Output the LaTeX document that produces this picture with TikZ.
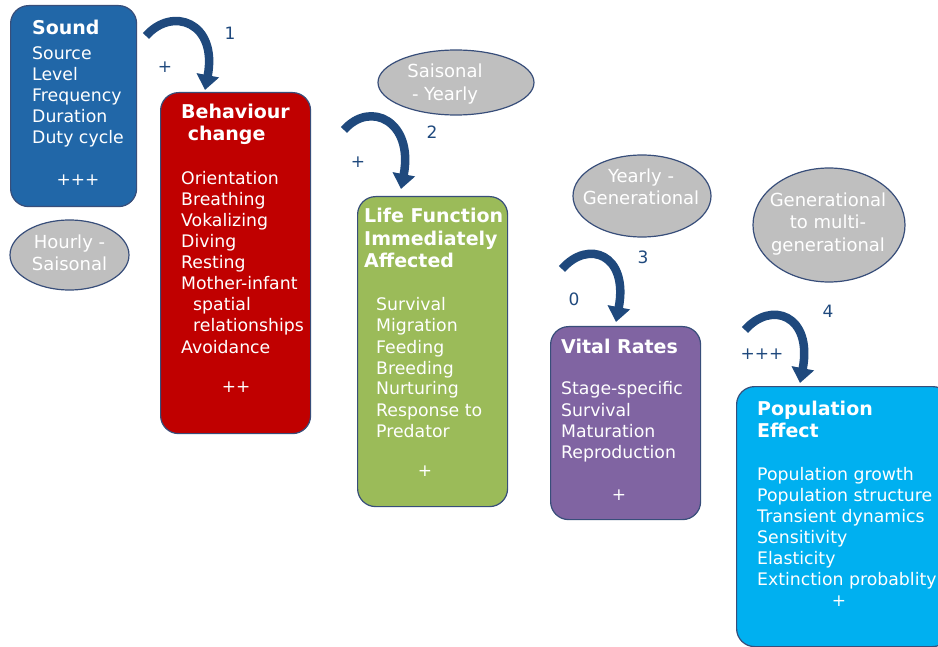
\documentclass[tikz,border=0pt]{standalone}
\usepackage{fontspec}
\setmainfont{DejaVu Sans}
\usetikzlibrary{arrows.meta,shapes.geometric}

\definecolor{soundblue}{RGB}{33,103,168}
\definecolor{behavred}{RGB}{192,0,0}
\definecolor{lifegreen}{RGB}{155,187,89}
\definecolor{vitalpurple}{RGB}{128,100,162}
\definecolor{popcyan}{RGB}{0,176,240}
\definecolor{periodgray}{RGB}{191,191,191}
\definecolor{boxline}{RGB}{56,78,122}
\definecolor{arrowblue}{RGB}{31,73,125}

\tikzset{
  box/.style={draw=boxline, line width=1.2pt, rounded corners=18pt, anchor=north west, inner sep=0pt},
  boxtitle/.style={anchor=base west, inner sep=0pt, text=white, font=\fontsize{19}{22}\selectfont\bfseries},
  item/.style={anchor=base west, inner sep=0pt, text=white, font=\fontsize{17.3}{21}\selectfont},
  score/.style={inner sep=0pt, text=white, font=\fontsize{17}{21}\selectfont},
  period/.style={ellipse, draw=boxline, fill=periodgray, line width=1.2pt, inner sep=0pt},
  periodtext/.style={align=center, inner sep=0pt, text=white, font=\fontsize{18}{22.5}\selectfont},
  bendarrow/.style={draw=arrowblue, line width=8.5pt, -{Triangle[length=15pt,width=22pt]}},
  steplabel/.style={inner sep=0pt, text=arrowblue, font=\fontsize{17}{21}\selectfont}
}

\begin{document}
\begin{tikzpicture}[x=1pt, y=-1pt]
  \useasboundingbox (0,0) rectangle (938,647);

  % boxes
  \node[box, fill=soundblue, minimum width=126, minimum height=201] (sound) at (10,5) {};
  \node[box, fill=behavred, minimum width=150, minimum height=341] (behav) at (160,92) {};
  \node[box, fill=lifegreen, minimum width=150, minimum height=310] (life) at (357,196) {};
  \node[box, fill=vitalpurple, minimum width=150, minimum height=193] (vital) at (550,326) {};
  \node[box, fill=popcyan, minimum width=214, minimum height=260] (pop) at (736,386) {};

  % time scales
  \node[period, minimum width=119, minimum height=70] (hourly) at (69.5,255) {};
  \node[period, minimum width=156, minimum height=65] (saisonal) at (456,82.5) {};
  \node[period, minimum width=138, minimum height=82] (yearly) at (642,196) {};
  \node[period, minimum width=152, minimum height=114] (generational) at (829,225) {};
  \node[periodtext] (hourly-t) at (69.5,253) {Hourly -\\Saisonal};
  \node[periodtext] (saisonal-t) at (445,84) {Saisonal\\- Yearly};
  \node[periodtext] (yearly-t) at (641,187) {Yearly -\\Generational};
  \node[periodtext] (generational-t) at (828,224) {Generational\\to multi-\\generational};

  % titles
  \node[boxtitle] (sound-title) at (32,35) {Sound};
  \foreach \y/\txt [count=\i] in {119/Behaviour, 141/{\ }change}
    \node[boxtitle] (behav-title\i) at (181,\y) {\txt};
  \foreach \y/\txt [count=\i] in {223/Life Function, 246/Immediately, 268/Affected}
    \node[boxtitle] (life-title\i) at (364,\y) {\txt};
  \node[boxtitle] (vital-title) at (561,353) {Vital Rates};
  \foreach \y/\txt [count=\i] in {415/Population, 437/Effect}
    \node[boxtitle] (pop-title\i) at (757,\y) {\txt};

  % items
  \foreach \txt [count=\i] in {Source, Level, Frequency, Duration, Duty cycle}
    \node[item] (sound-\i) at (32,39+21*\i) {\txt};
  \foreach \dx/\txt [count=\i] in {0/Orientation, 0/Breathing, 0/Vokalizing, 0/Diving, 0/Resting,
      0/Mother-infant, 12/spatial, 12/relationships, 0/Avoidance}
    \node[item] (behav-\i) at (181+\dx,164+21*\i) {\txt};
  \foreach \txt [count=\i] in {Survival, Migration, Feeding, Breeding, Nurturing, Response to, Predator}
    \node[item] (life-\i) at (376,290+21*\i) {\txt};
  \foreach \txt [count=\i] in {Stage-specific, Survival, Maturation, Reproduction}
    \node[item] (vital-\i) at (561,374+21*\i) {\txt};
  \foreach \txt [count=\i] in {Population growth, Population structure, Transient dynamics,
      Sensitivity, Elasticity, Extinction probablity}
    \node[item] (pop-\i) at (757,459+21*\i) {\txt};

  % scores
  \node[score] (sound-score) at (78,180) {+++};
  \node[score] (behav-score) at (236,387) {++};
  \node[score] (life-score) at (425,471) {+};
  \node[score] (vital-score) at (619,495) {+};
  \node[score] (pop-score) at (839,601) {+};

  % steps
  \foreach \n/\sx/\sy/\ex/\ey in {1/146/36/205/90, 2/344/130/401/189, 3/562/269/616/322, 4/745/330/800/383} {
    \coordinate (a\n s) at (\sx,\sy);
    \coordinate (a\n e) at (\ex,\ey);
    \draw[bendarrow] (a\n s) .. controls +(26,-30) and +(13,-68) .. (a\n e);
  }
  \node[steplabel] (step1) at (230,33) {1};
  \node[steplabel] (sign1) at (165,67) {+};
  \node[steplabel] (step2) at (432,132) {2};
  \node[steplabel] (sign2) at (358,162) {+};
  \node[steplabel] (step3) at (643,257) {3};
  \node[steplabel] (sign3) at (574,299) {0};
  \node[steplabel] (step4) at (828,311) {4};
  \node[steplabel] (sign4) at (762,354) {+++};
\end{tikzpicture}
\end{document}
